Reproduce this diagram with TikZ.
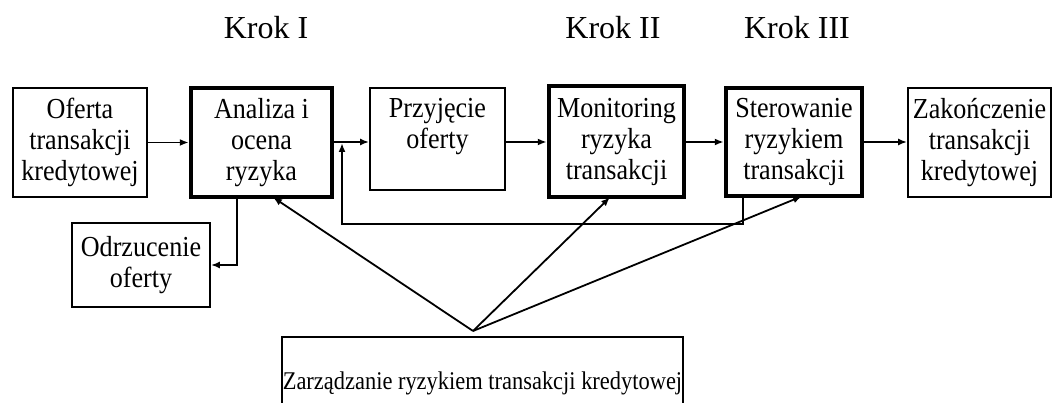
\documentclass[tikz,border=0pt]{standalone}
\usepackage{fontspec}
\setmainfont{Liberation Serif}
\newfontfamily\condfont[FakeStretch=0.9]{Liberation Serif}
\newfontfamily\condbfont[FakeStretch=0.88]{Liberation Serif}
\usetikzlibrary{arrows.meta,calc}
\begin{document}
\begin{tikzpicture}[x=1pt,y=-1pt,
  txt/.style={font=\condfont\fontsize{29}{31}\selectfont, align=center, inner sep=0pt},
  krok/.style={font=\fontsize{32}{38}\selectfont, inner sep=0pt, anchor=base},
  box/.style={txt, draw, line width=1.8pt},
  tbox/.style={txt, draw, line width=4.5pt},
  arr/.style={line width=1.8pt, -{Latex[length=9pt,width=7pt]}}]
\useasboundingbox (0,0) rectangle (1054,403);
\clip (0,0) rectangle (1054,403);
% step labels
\node[krok] (k1) at (266,39) {Krok I};
\node[krok] (k2) at (613,39) {Krok II};
\node[krok] (k3) at (797,39) {Krok III};
% boxes
\node[box, minimum width=134pt, minimum height=109pt] (of) at (80,142.5) {Oferta\\transakcji\\kredytowej};
\node[tbox, minimum width=141pt, minimum height=109pt] (ana) at (261.5,142.5) {Analiza i\\ocena\\ryzyka};
\node[box, minimum width=135pt, minimum height=102pt] (prz) at (437.5,139) {Przyjęcie\\oferty\\\mbox{}};
\node[tbox, minimum width=135pt, minimum height=111pt] (mon) at (616.5,141.5) {Monitoring\\ryzyka\\transakcji};
\node[tbox, minimum width=136pt, minimum height=108pt] (ste) at (794,142) {Sterowanie\\ryzykiem\\transakcji};
\node[box, minimum width=143pt, minimum height=109pt] (zak) at (979.5,142.5) {Zakończenie\\transakcji\\kredytowej};
\node[box, minimum width=138pt, minimum height=84pt] (odr) at (141,265) {Odrzucenie\\oferty};
\node[box, font=\condbfont\fontsize{25.5}{31}\selectfont, minimum width=401pt, minimum height=92pt] (zr) at (482.5,383) {Zarządzanie ryzykiem transakcji kredytowej};
% main flow
\draw[arr] (of.east) -- (ana.west |- of.east);
\draw[arr] (ana.east |- 0,142) -- (prz.west |- 0,142);
\draw[arr] (prz.east |- 0,142) -- (mon.west |- 0,142);
\draw[arr] (mon.east |- 0,142) -- (ste.west |- 0,142);
\draw[arr] (ste.east |- 0,142) -- (zak.west |- 0,142);
% rejection
\draw[arr] ([xshift=-24.5pt]ana.south) |- (odr.east);
% feedback loop
\coordinate (fb) at (342,143);
\draw[arr] ([xshift=-51pt]ste.south) -- ++(0,26) -| (fb);
% management arrows
\coordinate (apex) at (473,331);
\draw[arr] (apex) -- ([xshift=11.5pt,yshift=2pt]ana.south);
\draw[arr] (apex) -- ([xshift=-6.5pt,yshift=2pt]mon.south);
\draw[arr] (apex) -- ([xshift=8pt,yshift=2pt]ste.south);
\end{tikzpicture}
\end{document}
